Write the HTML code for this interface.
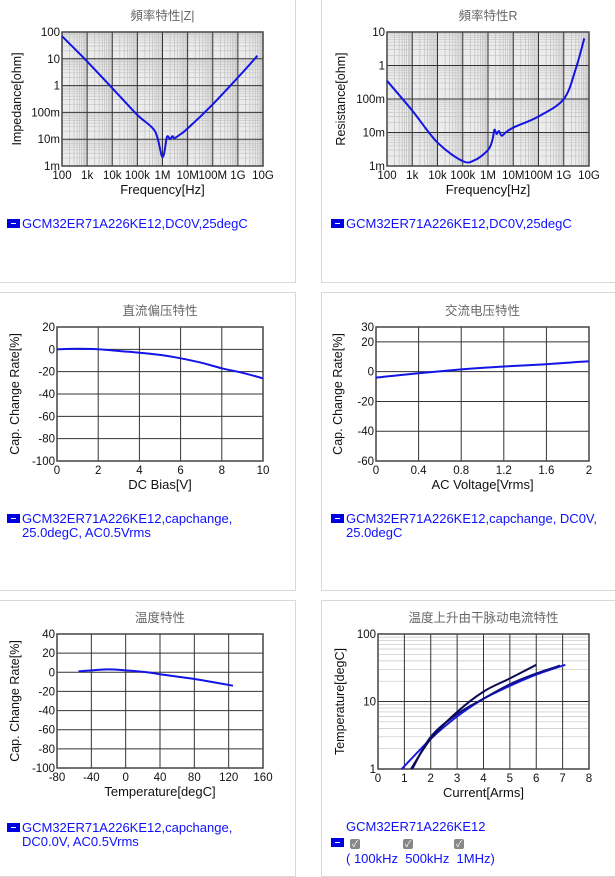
<!DOCTYPE html>
<html><head><meta charset="utf-8">
<style>
body{margin:0;width:615px;height:871px;overflow:hidden;background:#fff;font-family:"Liberation Sans","Noto Sans CJK SC",sans-serif;}
.panel{position:absolute;border:1px solid #d8d8d8;background:#fff;}
.leg{position:absolute;color:#1010ff;font-size:13px;line-height:14px;}
.sw{display:inline-block;width:13px;height:9px;background:#0000e0;position:relative;vertical-align:0px;margin-right:2px;}
.sw:after{content:"";position:absolute;left:4px;right:4px;top:4px;height:1px;background:#fff;}
.cb{display:inline-block;width:10px;height:10px;background:#888;border-radius:2px;color:#fff;font-size:9px;line-height:10px;text-align:center;vertical-align:0px;}
svg{position:absolute;left:0;top:0;}
</style></head><body>
<div class="panel" style="left:-2px;top:-2px;width:296px;height:283px;"></div>
<div class="panel" style="left:321px;top:-2px;width:296px;height:283px;"></div>
<div class="panel" style="left:-2px;top:292px;width:296px;height:297px;"></div>
<div class="panel" style="left:321px;top:292px;width:296px;height:297px;"></div>
<div class="panel" style="left:-2px;top:600px;width:296px;height:275px;"></div>
<div class="panel" style="left:321px;top:600px;width:296px;height:275px;"></div>

<svg id="s" width="615" height="871"></svg>

<div class="leg" style="left:7px;top:217px;"><span class="sw"></span>GCM32ER71A226KE12,DC0V,25degC</div>
<div class="leg" style="left:331px;top:217px;"><span class="sw"></span>GCM32ER71A226KE12,DC0V,25degC</div>
<div class="leg" style="left:7px;top:512px;"><span class="sw"></span>GCM32ER71A226KE12,capchange,<br><span style="padding-left:15px">25.0degC, AC0.5Vrms</span></div>
<div class="leg" style="left:331px;top:512px;"><span class="sw"></span>GCM32ER71A226KE12,capchange, DC0V,<br><span style="padding-left:15px">25.0degC</span></div>
<div class="leg" style="left:7px;top:821px;"><span class="sw"></span>GCM32ER71A226KE12,capchange,<br><span style="padding-left:15px">DC0.0V, AC0.5Vrms</span></div>
<div class="leg" style="left:331px;top:819px;line-height:16px;">
<span style="padding-left:15px">GCM32ER71A226KE12</span><br>
<span class="sw"></span><span style="display:inline-block;width:4px"></span><span class="cb">✓</span><span style="display:inline-block;width:43px"></span><span class="cb">✓</span><span style="display:inline-block;width:41px"></span><span class="cb">✓</span><br>
<span style="padding-left:15px">(&nbsp;100kHz &nbsp;500kHz &nbsp;1MHz)</span></div>

<script>
// ---- data ----
const zFreq=[100,1e3,1e4,1e5,5e5,1e6,1.5e6,2e6,2.5e6,3e6,5e6,1e7,1e8,1e9,6e9];
const zVal=[70,8,0.8,0.08,0.02,0.0022,0.012,0.01,0.013,0.011,0.015,0.025,0.2,2,13];
const rFreq=[100,1e3,1e4,1e5,3e5,1e6,1.5e6,1.8e6,2.2e6,2.7e6,3.5e6,5e6,1e7,1e8,1e9,3e9,6.5e9];
const rVal=[0.35,0.045,0.005,0.0014,0.0015,0.003,0.006,0.012,0.009,0.011,0.008,0.01,0.014,0.03,0.1,0.8,6.5];
const dcV=[0,1,2,3,4,5,6,7,8,9,10];
const dcCap=[0,0.5,0,-1.5,-3,-5,-8,-12,-17,-21,-26];
const acV=[0,0.4,0.8,1.2,1.6,2];
const acCap=[-4,-1,1.5,3.5,5,7];
const tempT=[-55,-40,-20,0,25,40,60,80,100,125];
const tempCap=[1,2,3,2,0,-2,-4.5,-7,-10,-14];
const cur100k=[1.25,2,3,4,5,6];
const tmp100k=[1,2.8,7,14,22,35];
const cur500k=[0.9,2,3,4,5,6,7.1];
const tmp500k=[1,2.8,6,11,17,25,35];
const cur1M=[1.3,2,3,4,5,6,6.9];
const tmp1M=[1,3,6.5,11,18,26,34];
const freqTicks=["100","1k","10k","100k","1M","10M","100M","1G","10G"];
const zTicks=["1m","10m","100m","1","10","100"];
const rTicks=["1m","10m","100m","1","10"];

const S=document.getElementById('s');const NS='http://www.w3.org/2000/svg';
function el(t,a,txt){const e=document.createElementNS(NS,t);for(const k in a)e.setAttribute(k,a[k]);if(txt!==undefined)e.textContent=txt;S.appendChild(e);return e;}
function txt(x,y,s,anchor,size,col,rot,name){const a={x:x,y:y,'text-anchor':anchor,'font-size':size,fill:col,'font-family':'Liberation Sans, Noto Sans CJK SC, sans-serif'};if(rot)a.transform=`rotate(-90 ${x} ${y})`;const e=el('text',a,s);return e;}
function smooth(P){let d='M'+P[0][0].toFixed(1)+','+P[0][1].toFixed(1);
 for(let i=0;i<P.length-1;i++){const p0=P[i-1]||P[i],p1=P[i],p2=P[i+1],p3=P[i+2]||p2;
  const c1=[p1[0]+(p2[0]-p0[0])/6,p1[1]+(p2[1]-p0[1])/6],c2=[p2[0]-(p3[0]-p1[0])/6,p2[1]-(p3[1]-p1[1])/6];
  d+='C'+c1.map(v=>v.toFixed(1))+' '+c2.map(v=>v.toFixed(1))+' '+p2.map(v=>v.toFixed(1));}
 return d;}
function chart(c){
 const {x0,x1,y0,y1}=c;
 const sx=v=>x0+(c.xlog?(Math.log10(v)-Math.log10(c.xmin))/(Math.log10(c.xmax)-Math.log10(c.xmin)):(v-c.xmin)/(c.xmax-c.xmin))*(x1-x0);
 const sy=v=>y1-(c.ylog?(Math.log10(v)-Math.log10(c.ymin))/(Math.log10(c.ymax)-Math.log10(c.ymin)):(v-c.ymin)/(c.ymax-c.ymin))*(y1-y0);
 const bg=el('rect',{x:x0,y:y0,width:x1-x0,height:y1-y0,fill:c.xlog?'#ececec':'#fff'});
 
 if(c.xlog){for(let d=Math.log10(c.xmin);d<Math.log10(c.xmax);d++){for(let m=2;m<10;m++){const X=sx(Math.pow(10,d)*m);el('line',{x1:X,x2:X,y1:y0,y2:y1,stroke:'#bdbdbd','stroke-width':0.7});}}}
 if(c.ylog){for(let d=Math.log10(c.ymin);d<Math.log10(c.ymax)-0.01;d++){for(let m=2;m<10;m++){const Y=sy(Math.pow(10,d)*m);el('line',{x1:x0,x2:x1,y1:Y,y2:Y,stroke:'#c4c4c4','stroke-width':0.7});}}}
 c.xt.forEach((v,i)=>{const X=sx(v);el('line',{x1:X,x2:X,y1:y0,y2:y1,stroke:'#333','stroke-width':1});txt(X,y1+13,c.xl[i],'middle',11.5,'#111',0,c.name+'-x-tick');});
 c.yt.forEach((v,i)=>{const Y=sy(v);el('line',{x1:x0,x2:x1,y1:Y,y2:Y,stroke:'#333','stroke-width':1});txt(x0-2,Y+4,c.yl[i],'end',11.5,'#111',0,c.name+'-y-tick');});
 const fr=el('rect',{x:x0,y:y0,width:x1-x0,height:y1-y0,fill:'none',stroke:'#444','stroke-width':1.5});
 
 c.series.forEach(s=>{const P=s.x.map((v,i)=>[sx(v),sy(s.y[i])]);const p=el('path',{d:smooth(P),fill:'none',stroke:s.col,'stroke-width':2,'stroke-linejoin':'round'});});
 txt((x0+x1)/2,y0-12,c.title,'middle',12.5,'#666',0,c.name+'-title');
 txt((x0+x1)/2,y1+28,c.xtitle,'middle',13,'#111',0,c.name+'-x-axis-title');
 txt(c.ytx,(y0+y1)/2,c.ytitle,'middle',12.5,'#111',1,c.name+'-y-axis-title');
}
const fT=[1e2,1e3,1e4,1e5,1e6,1e7,1e8,1e9,1e10];
chart({name:'impedance',x0:62,x1:263,y0:32,y1:166,xlog:1,ylog:1,xmin:100,xmax:1e10,ymin:1e-3,ymax:100,xt:fT,xl:freqTicks,yt:[1e-3,1e-2,0.1,1,10,100],yl:zTicks,title:'頻率特性|Z|',xtitle:'Frequency[Hz]',ytitle:'Impedance[ohm]',ytx:21,series:[{x:zFreq,y:zVal,col:'#1414e6',name:'impedance-line'}]});
chart({name:'resistance',x0:387,x1:589,y0:32,y1:166,xlog:1,ylog:1,xmin:100,xmax:1e10,ymin:1e-3,ymax:10,xt:fT,xl:freqTicks,yt:[1e-3,1e-2,0.1,1,10],yl:rTicks,title:'頻率特性R',xtitle:'Frequency[Hz]',ytitle:'Resistance[ohm]',ytx:345,series:[{x:rFreq,y:rVal,col:'#1414e6',name:'resistance-line'}]});
chart({name:'dc-bias',x0:57,x1:263,y0:327,y1:461,xmin:0,xmax:10,ymin:-100,ymax:20,xt:[0,2,4,6,8,10],xl:['0','2','4','6','8','10'],yt:[-100,-80,-60,-40,-20,0,20],yl:['-100','-80','-60','-40','-20','0','20'],title:'直流偏压特性',xtitle:'DC Bias[V]',ytitle:'Cap. Change Rate[%]',ytx:19,series:[{x:dcV,y:dcCap,col:'#1414e6',name:'dc-bias-line'}]});
chart({name:'ac-voltage',x0:376,x1:589,y0:327,y1:461,xmin:0,xmax:2,ymin:-60,ymax:30,xt:[0,0.4,0.8,1.2,1.6,2],xl:['0','0.4','0.8','1.2','1.6','2'],yt:[-60,-40,-20,0,20,30],yl:['-60','-40','-20','0','20','30'],title:'交流电压特性',xtitle:'AC Voltage[Vrms]',ytitle:'Cap. Change Rate[%]',ytx:342,series:[{x:acV,y:acCap,col:'#1414e6',name:'ac-voltage-line'}]});
chart({name:'temperature',x0:57,x1:263,y0:634,y1:768,xmin:-80,xmax:160,ymin:-100,ymax:40,xt:[-80,-40,0,40,80,120,160],xl:['-80','-40','0','40','80','120','160'],yt:[-100,-80,-60,-40,-20,0,20,40],yl:['-100','-80','-60','-40','-20','0','20','40'],title:'温度特性',xtitle:'Temperature[degC]',ytitle:'Cap. Change Rate[%]',ytx:19,series:[{x:tempT,y:tempCap,col:'#1414e6',name:'temperature-line'}]});
chart({name:'current',x0:378,x1:589,y0:634,y1:769,ylog:1,xmin:0,xmax:8,ymin:1,ymax:100,xt:[0,1,2,3,4,5,6,7,8],xl:['0','1','2','3','4','5','6','7','8'],yt:[1,10,100],yl:['1','10','100'],title:'温度上升由干脉动电流特性',xtitle:'Current[Arms]',ytitle:'Temperature[degC]',ytx:344,series:[{x:cur500k,y:tmp500k,col:'#1a1ae0',name:'line-500khz'},{x:cur1M,y:tmp1M,col:'#10108a',name:'line-1mhz'},{x:cur100k,y:tmp100k,col:'#0a0a50',name:'line-100khz'}]});
</script>
</body></html>
